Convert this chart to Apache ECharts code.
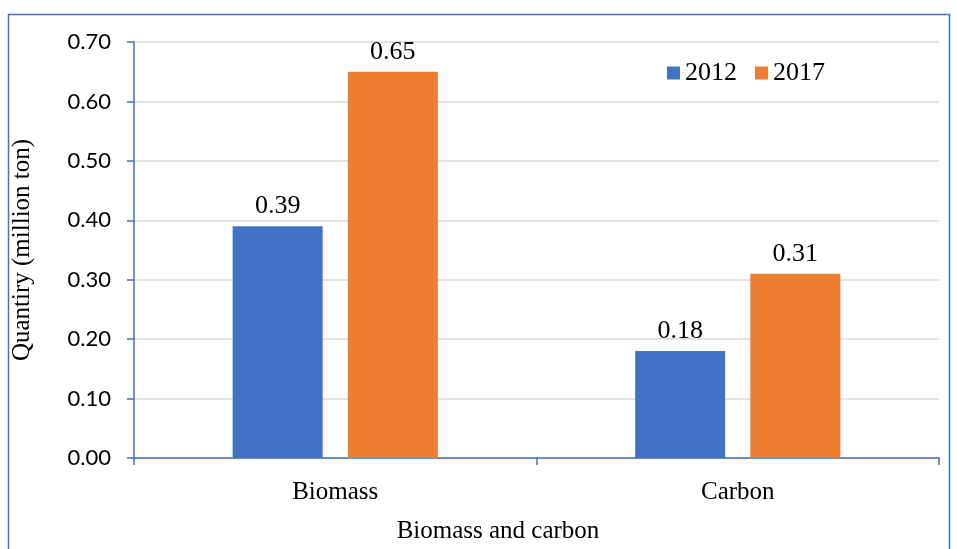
<!DOCTYPE html>
<html>
<head>
<meta charset="utf-8">
<script src="https://cdn.jsdelivr.net/npm/echarts@6/dist/echarts.min.js"></script>
<style>
html,body{margin:0;padding:0;background:#fff;}
#chart{width:957px;height:549px;}
</style>
</head>
<body>
<div id="chart"></div>
<script>
// Categories and series values (million ton)
const categories = ['Biomass', 'Carbon'];
const seriesNames = ['2012', '2017'];
const values2012 = [0.39, 0.18];
const values2017 = [0.65, 0.31];
const colors = ['#4472C4', '#ED7D31'];

const serif = '"Liberation Serif", "Times New Roman", serif';
const sans = 'Lato, "Open Sans", sans-serif';
const axisBlue = '#4472C4';

const chart = echarts.init(document.getElementById('chart'));

const barLabel = {
  show: true,
  position: 'top',
  distance: 7,
  fontFamily: serif,
  fontSize: 26,
  color: '#000',
  formatter: p => p.value.toFixed(2)
};

chart.setOption({
  animation: false,
  grid: { left: 134, right: 18, top: 42, bottom: 91 },
  graphic: [
    {
      type: 'rect',
      shape: { x: 8.5, y: 14.5, width: 941, height: 560 },
      style: { fill: 'none', stroke: axisBlue, lineWidth: 1.5 },
      silent: true
    },
    {
      type: 'text',
      x: 498,
      y: 531,
      style: {
        text: 'Biomass and carbon',
        font: '25px ' + serif,
        fill: '#000',
        textAlign: 'center',
        textVerticalAlign: 'middle'
      }
    }
  ],
  legend: {
    data: seriesNames,
    left: 662,
    top: 55,
    itemWidth: 13,
    itemHeight: 13,
    itemGap: 18,
    icon: 'rect',
    textStyle: { fontFamily: serif, fontSize: 26, color: '#000', padding: [0, 0, 0, 0] }
  },
  xAxis: {
    type: 'category',
    data: categories,
    axisLine: { show: true, lineStyle: { color: axisBlue, width: 1.5 } },
    axisTick: { show: true, length: 7, lineStyle: { color: axisBlue, width: 1.5 } },
    axisLabel: { margin: 22, fontFamily: serif, fontSize: 25, color: '#000' },
    splitLine: { show: false }
  },
  yAxis: {
    type: 'value',
    min: 0,
    max: 0.7,
    interval: 0.1,
    name: 'Quantiry (million ton)',
    nameLocation: 'middle',
    nameGap: 99,
    nameTextStyle: { fontFamily: serif, fontSize: 25, color: '#000' },
    axisLine: { show: true, lineStyle: { color: axisBlue, width: 1.5 } },
    axisTick: { show: true, length: 7, lineStyle: { color: axisBlue, width: 1.5 } },
    axisLabel: {
      margin: 23,
      fontFamily: sans,
      fontSize: 22,
      color: '#000',
      formatter: v => v.toFixed(2)
    },
    splitLine: { show: true, lineStyle: { color: '#d9d9d9', width: 1.5 } }
  },
  series: [
    {
      name: seriesNames[0],
      type: 'bar',
      data: values2012,
      barWidth: 90,
      barGap: '28%',
      itemStyle: { color: colors[0] },
      label: barLabel
    },
    {
      name: seriesNames[1],
      type: 'bar',
      data: values2017,
      barWidth: 90,
      barGap: '28%',
      itemStyle: { color: colors[1] },
      label: barLabel
    }
  ]
});
</script>
</body>
</html>
